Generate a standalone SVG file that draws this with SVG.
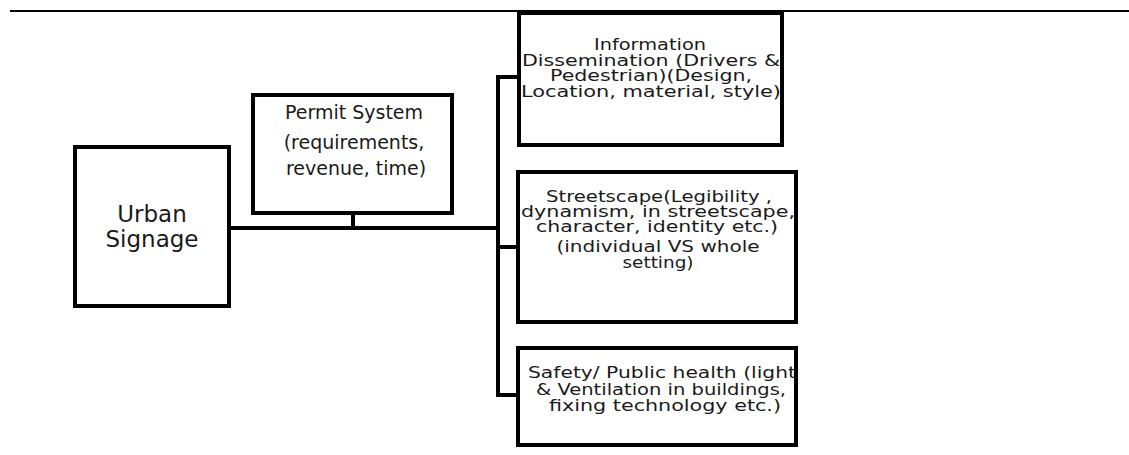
<svg xmlns="http://www.w3.org/2000/svg" width="1129" height="455" viewBox="0 0 1129 455">
<style>
.box{fill:#fff;stroke:#000;stroke-width:4}
.ln{stroke:#000;stroke-width:4;fill:none}
text{font-family:"DejaVu Sans","Liberation Sans",sans-serif;fill:#1a1a1a;text-anchor:middle}
.t{font-size:19px}
.s{font-size:16px}
.big{font-size:23px}
</style>
<rect width="1129" height="455" fill="#fff"/>
<line x1="10" y1="11" x2="1129" y2="11" stroke="#000" stroke-width="2"/>
<g id="connectors">
<line class="ln" x1="229" y1="228" x2="500" y2="228"/>
<line class="ln" x1="353" y1="213" x2="353" y2="228"/>
<line class="ln" x1="498" y1="75" x2="498" y2="397"/>
<line class="ln" x1="496" y1="77" x2="519" y2="77"/>
<line class="ln" x1="496" y1="247" x2="518" y2="247"/>
<line class="ln" x1="496" y1="395" x2="518" y2="395"/>
</g>
<g id="urban">
<rect class="box" x="75" y="147" width="154" height="159"/>
<text class="big" x="152" y="222">Urban</text>
<text class="big" x="152" y="247">Signage</text>
</g>
<g id="permit">
<rect class="box" x="253" y="95" width="199" height="118"/>
<text class="t" x="354" y="119">Permit System</text>
<text class="t" x="354" y="149">(requirements,</text>
<text class="t" x="356" y="175">revenue, time)</text>
</g>
<g id="info">
<rect class="box" x="519" y="13" width="263" height="132"/>
<text class="s" x="650" y="50" textLength="112" lengthAdjust="spacingAndGlyphs">Information</text>
<text class="s" x="651" y="65.5" textLength="258" lengthAdjust="spacingAndGlyphs">Dissemination (Drivers &amp;</text>
<text class="s" x="651" y="81" textLength="202" lengthAdjust="spacingAndGlyphs">Pedestrian)(Design,</text>
<text class="s" x="651" y="96.5" textLength="260" lengthAdjust="spacingAndGlyphs">Location, material, style)</text>
</g>
<g id="streetscape">
<rect class="box" x="518" y="172" width="278" height="150"/>
<text class="s" x="659" y="202" textLength="226" lengthAdjust="spacingAndGlyphs">Streetscape(Legibility ,</text>
<text class="s" x="658" y="217" textLength="274" lengthAdjust="spacingAndGlyphs">dynamism, in streetscape,</text>
<text class="s" x="657" y="232" textLength="242" lengthAdjust="spacingAndGlyphs">character, identity etc.)</text>
<text class="s" x="658" y="252" textLength="203" lengthAdjust="spacingAndGlyphs">(individual VS whole</text>
<text class="s" x="658" y="268" textLength="71" lengthAdjust="spacingAndGlyphs">setting)</text>
</g>
<g id="safety">
<rect class="box" x="518" y="348" width="278" height="97"/>
<text class="s" x="662" y="378" textLength="268" lengthAdjust="spacingAndGlyphs">Safety/ Public health (light</text>
<text class="s" x="661" y="395" textLength="250" lengthAdjust="spacingAndGlyphs">&amp; Ventilation in buildings,</text>
<text class="s" x="665" y="411" textLength="232" lengthAdjust="spacingAndGlyphs">fixing technology etc.)</text>
</g>
</svg>
